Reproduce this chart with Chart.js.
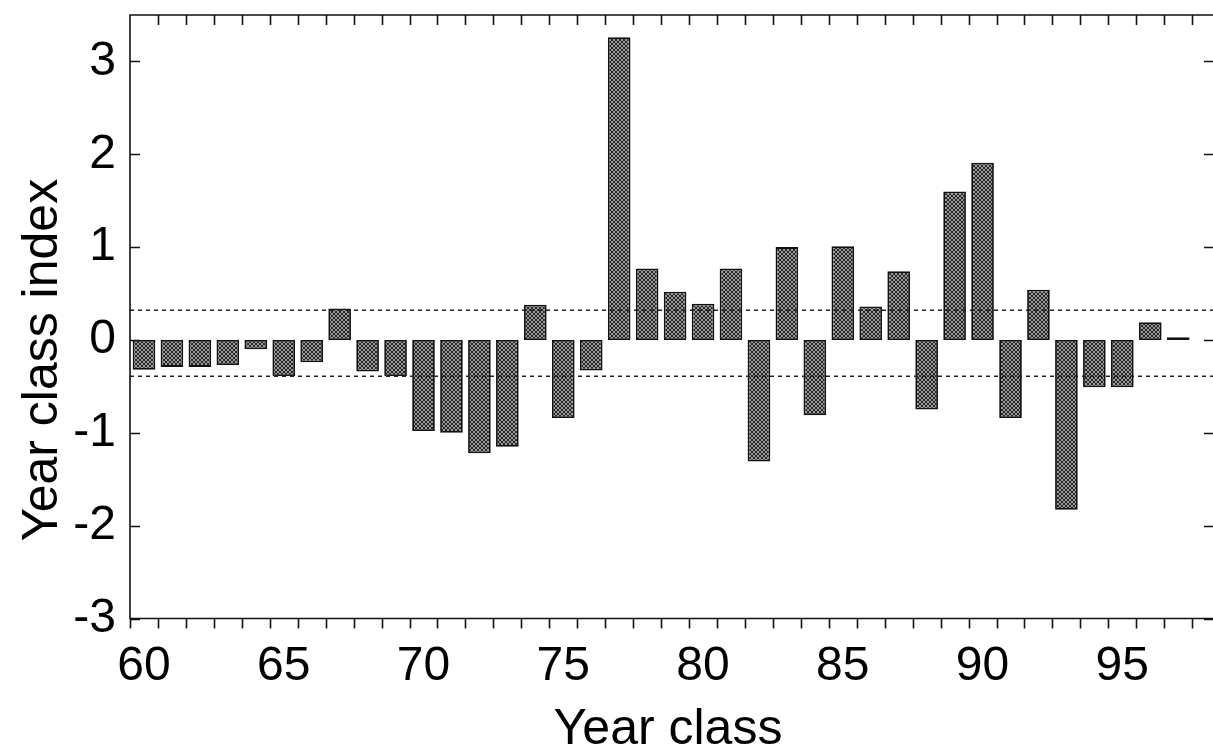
<!DOCTYPE html>
<html>
<head>
<meta charset="utf-8">
<script src="https://cdn.jsdelivr.net/npm/chart.js@4.4.1/dist/chart.umd.min.js"></script>
<style>
  html, body { margin: 0; padding: 0; background: #fff; overflow: hidden; }
  #wrap { width: 1216px; height: 747px; }
</style>
</head>
<body>
<div id="wrap"><canvas id="yc" width="1216" height="747"></canvas></div>
<script>
// year classes and their index
const years = [60, 61, 62, 63, 64, 65, 66, 67, 68, 69,
               70, 71, 72, 73, 74, 75, 76, 77, 78, 79,
               80, 81, 82, 83, 84, 85, 86, 87, 88, 89,
               90, 91, 92, 93, 94, 95, 96, 97];
const yearIndex = [-0.32, -0.29, -0.29, -0.27, -0.10, -0.39, -0.24, 0.34, -0.34, -0.39,
                   -0.98, -1.00, -1.22, -1.15, 0.38, -0.84, -0.33, 3.26, 0.77, 0.52,
                   0.39, 0.77, -1.31, 1.00, -0.81, 1.01, 0.36, 0.74, -0.75, 1.60,
                   1.91, -0.84, 0.54, -1.83, -0.51, -0.51, 0.19, 0.03];

// dotted limits
const upperLimit = 0.32;
const lowerLimit = -0.39;

const xTickLabels = [60, 65, 70, 75, 80, 85, 90, 95];
const yTickLabels = [-3, -2, -1, 0, 1, 2, 3];
const xTitle = 'Year class';
const yTitle = 'Year class index';

const FONT = 'Liberation Sans, Arial, Helvetica, sans-serif';
const canvas = document.getElementById('yc');
const ctx = canvas.getContext('2d');

// grey cross-dithered fill for the bars
function hatch() {
  const c = document.createElement('canvas');
  c.width = 4; c.height = 4;
  const g = c.getContext('2d');
  g.fillStyle = '#9a9a9a';
  g.fillRect(0, 0, 4, 4);
  g.fillStyle = '#262626';
  for (let i = 0; i < 4; i++) {
    g.fillRect(i, i, 1, 1);
    g.fillRect(i, 3 - i, 1, 1);
  }
  return ctx.createPattern(c, 'repeat');
}

const xMin = years[0] - 0.5;
const xMax = 98.28;

// box, inside/outside ticks and axis titles
const frame = {
  id: 'frame',
  afterDraw(chart) {
    const { ctx, chartArea: a, scales: { x, y } } = chart;
    ctx.save();
    ctx.strokeStyle = '#111';
    ctx.lineWidth = 1.6;
    ctx.beginPath();
    ctx.moveTo(a.left, a.bottom);
    ctx.lineTo(a.left, a.top);
    ctx.lineTo(a.right, a.top);
    ctx.lineTo(a.right, a.bottom);
    ctx.closePath();
    for (let n = years[0]; n - 0.5 <= xMax; n++) {
      const px = Math.round(x.getPixelForValue(n - 0.5)) + 0.5;
      ctx.moveTo(px, a.bottom);
      ctx.lineTo(px, a.bottom + 10);
      if (n > years[0]) {
        ctx.moveTo(px, a.top);
        ctx.lineTo(px, a.top + 10);
      }
    }
    yTickLabels.forEach(v => {
      const py = Math.round(y.getPixelForValue(v)) + 0.5;
      ctx.moveTo(a.left, py);
      ctx.lineTo(a.left + 10, py);
      ctx.moveTo(a.right, py);
      ctx.lineTo(a.right - 10, py);
    });
    ctx.stroke();

    ctx.fillStyle = '#000';
    ctx.font = '50px ' + FONT;
    ctx.textAlign = 'center';
    ctx.textBaseline = 'alphabetic';
    ctx.fillText(xTitle, 668, 744);
    ctx.translate(57, 360);
    ctx.rotate(-Math.PI / 2);
    ctx.fillText(yTitle, 0, 0);
    ctx.restore();
  }
};

const limitLine = v => ({
  type: 'line',
  data: [{ x: xMin, y: v }, { x: 98.6, y: v }],
  borderColor: '#222',
  borderWidth: 1.5,
  borderDash: [4, 4],
  pointRadius: 0,
  fill: false,
  order: 1
});

new Chart(ctx, {
  type: 'bar',
  data: {
    datasets: [
      {
        data: years.map((yr, i) => ({ x: yr, y: yearIndex[i] })),
        backgroundColor: hatch(),
        borderColor: '#111',
        borderWidth: 1.8,
        borderSkipped: false,
        barPercentage: 0.81,
        categoryPercentage: 1.0,
        order: 2
      },
      limitLine(upperLimit),
      limitLine(lowerLimit)
    ]
  },
  options: {
    responsive: false,
    animation: false,
    devicePixelRatio: 1,
    layout: { padding: { top: 15, right: 2, left: 0, bottom: 0 } },
    plugins: { legend: { display: false }, tooltip: { enabled: false } },
    scales: {
      x: {
        type: 'linear',
        min: xMin,
        max: xMax,
        offset: false,
        grid: { display: false },
        border: { display: false },
        afterBuildTicks: s => { s.ticks = xTickLabels.map(v => ({ value: v })); },
        afterFit: s => { s.height = 128.5; s.paddingLeft = 0; s.paddingRight = 0; },
        ticks: {
          color: '#000',
          font: { family: FONT, size: 48 },
          padding: 11,
          maxRotation: 0,
          autoSkip: false,
          callback: v => String(v)
        }
      },
      y: {
        min: -3,
        max: 3.5,
        grid: { display: false },
        border: { display: false },
        afterBuildTicks: s => { s.ticks = yTickLabels.map(v => ({ value: v })); },
        afterFit: s => { s.width = 130; s.paddingTop = 0; s.paddingBottom = 0; },
        ticks: {
          color: '#000',
          font: { family: FONT, size: 48 },
          padding: 6
        }
      }
    }
  },
  plugins: [frame]
});
</script>
</body>
</html>
